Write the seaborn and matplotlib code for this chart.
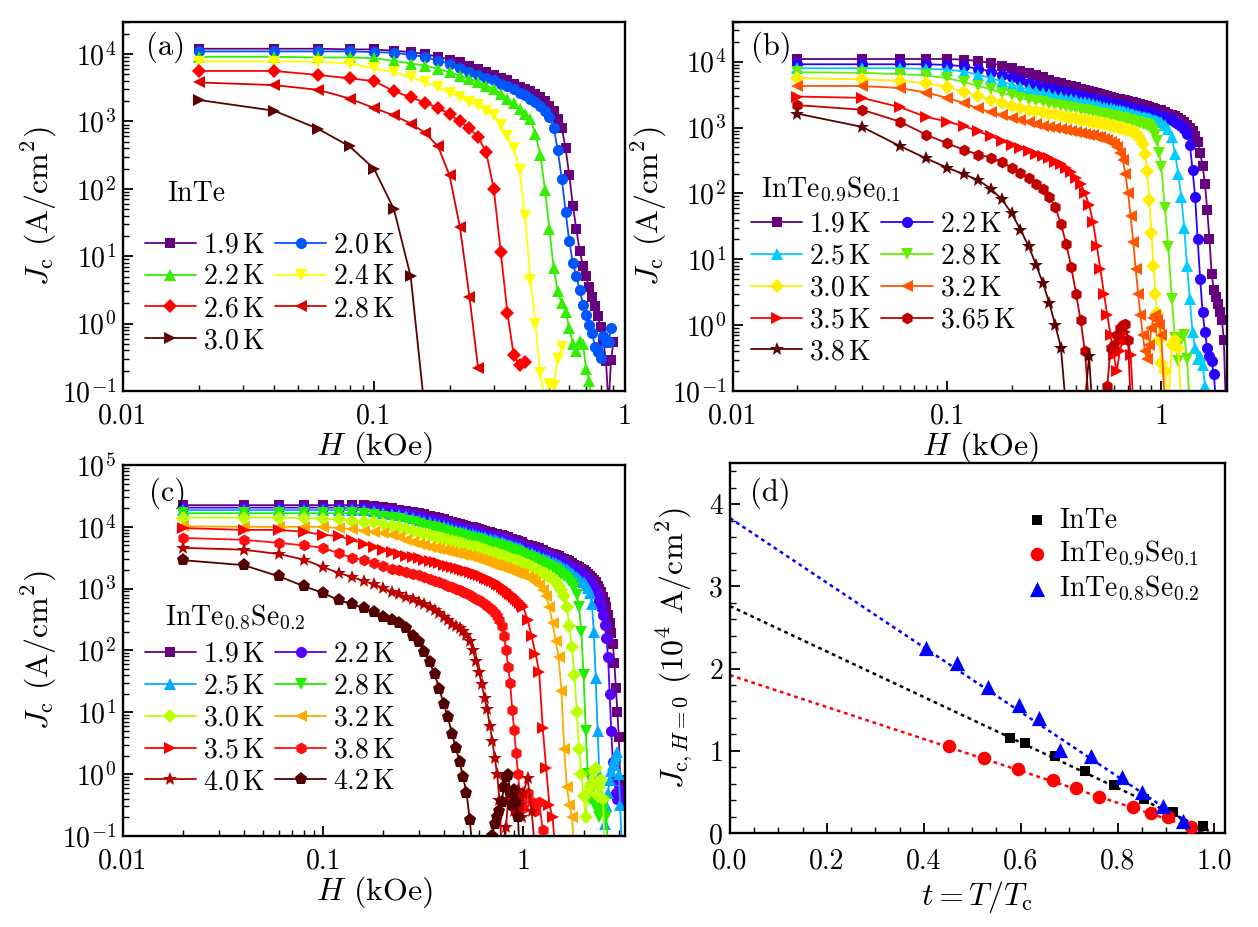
import numpy as np
import matplotlib
matplotlib.use("Agg")
import matplotlib.pyplot as plt
from matplotlib.ticker import LogLocator, NullFormatter, FuncFormatter, MultipleLocator
import seaborn as sns

sns.set_style("ticks", {"axes.edgecolor": "black", "xtick.color": "black",
                        "ytick.color": "black", "text.color": "black",
                        "axes.labelcolor": "black"})
plt.rcParams["font.family"] = "serif"
plt.rcParams["font.serif"] = ["cmr10"]
plt.rcParams["mathtext.fontset"] = "cm"
plt.rcParams["axes.formatter.use_mathtext"] = True
plt.rcParams["axes.unicode_minus"] = False

# ---------------- field grids (kOe) ----------------
H_low = [0.02, 0.04, 0.06, 0.08, 0.10, 0.12, 0.14, 0.16, 0.18, 0.20,
         0.22, 0.24, 0.26, 0.28, 0.30, 0.32, 0.34, 0.36, 0.38, 0.40,
         0.42, 0.44, 0.46, 0.48, 0.50, 0.52, 0.54, 0.56, 0.58, 0.60,
         0.62, 0.64, 0.66, 0.68, 0.70, 0.72, 0.74, 0.76, 0.78, 0.80,
         0.82, 0.84, 0.86, 0.88, 0.90, 0.92, 0.94, 0.96, 0.98, 1.00]
H_b_high = [1.04, 1.08, 1.12, 1.16, 1.20, 1.24, 1.28, 1.32, 1.36, 1.40,
            1.44, 1.48, 1.52, 1.56, 1.60, 1.64, 1.68, 1.72, 1.76, 1.80,
            1.84, 1.88, 1.92, 1.96, 2.00]
H_c_high = [1.05, 1.10, 1.15, 1.20, 1.25, 1.30, 1.35, 1.40, 1.45, 1.50,
            1.55, 1.60, 1.65, 1.70, 1.75, 1.80, 1.85, 1.90, 1.95, 2.00,
            2.05, 2.10, 2.15, 2.20, 2.25, 2.30, 2.35, 2.40, 2.45, 2.50,
            2.55, 2.60, 2.65, 2.70, 2.75, 2.80, 2.85, 2.90, 2.95, 3.00,
            3.05, 3.10, 3.15, 3.20]
H_a = H_low[:45]
H_b = H_low + H_b_high
H_c = H_low + H_c_high

# ---------------- panel (a): InTe, log10(Jc) ----------------
T_a = ["1.9", "2.0", "2.2", "2.4", "2.6", "2.8", "3.0"]
logJ_a = [
    [4.08, 4.08, 4.08, 4.07, 4.07, 4.05, 4.03, 4.00, 3.96, 3.92,
     3.88, 3.83, 3.78, 3.74, 3.69, 3.65, 3.61, 3.56, 3.51, 3.48,
     3.45, 3.41, 3.36, 3.30, 3.23, 3.15, 3.04, 2.90, 2.60, 2.20,
     1.75, 1.40, 1.08, 0.86, 0.70, 0.54, 0.40, 0.26, 0.11, -0.05,
     -0.26, -0.55, -1.22, -0.54, -0.27],
    [4.04, 4.04, 4.04, 4.04, 4.03, 4.02, 3.99, 3.96, 3.90, 3.86,
     3.80, 3.74, 3.69, 3.65, 3.61, 3.56, 3.52, 3.48, 3.43, 3.39,
     3.34, 3.29, 3.23, 3.16, 3.06, 2.91, 2.57, 2.15, 1.66, 1.22,
     0.90, 0.70, 0.50, 0.28, 0.13, -0.02, -0.14, -0.34, -0.42, -0.51,
     -0.19, -0.27, -0.28, -0.07],
    [3.96, 3.96, 3.95, 3.95, 3.94, 3.90, 3.86, 3.83, 3.78, 3.73,
     3.68, 3.63, 3.59, 3.53, 3.48, 3.41, 3.34, 3.27, 3.18, 3.11,
     3.04, 2.81, 2.50, 1.99, 1.40, 0.82, 0.48, 0.30, 0.18, -0.07,
     -0.30, -0.40, -0.26, -0.30, -0.68, -0.85, -1.30],
    [3.89, 3.89, 3.89, 3.86, 3.79, 3.73, 3.66, 3.58, 3.51, 3.43,
     3.36, 3.29, 3.24, 3.16, 3.09, 2.95, 2.78, 2.60, 2.28, 1.59,
     0.65, 0.00, -0.74, -1.15, -0.89, -0.92, -0.52, -0.35],
    [3.75, 3.75, 3.69, 3.64, 3.60, 3.45, 3.36, 3.28, 3.20, 3.11,
     3.00, 2.90, 2.77, 2.54, 2.00, 1.06, 0.16, -0.46, -0.62, -0.57],
    [3.58, 3.54, 3.47, 3.34, 3.20, 3.09, 2.97, 2.83, 2.63, 2.20,
     1.43, 0.40, -0.66],
    [3.32, 3.16, 2.89, 2.63, 2.30, 1.70, 0.70, -1.35],
]
col_a = ["#66007f", "#0055ff", "#33ee00", "#ffff00", "#ff0000", "#dd0000", "#5c0000"]
mk_a = ["s", "o", "^", "v", "D", "<", ">"]
ms_a = [7, 8, 8.5, 8.5, 7, 8.5, 8.5]

# ---------------- panel (b): InTe0.9Se0.1 ----------------
T_b = ["1.9", "2.2", "2.5", "2.8", "3.0", "3.2", "3.5", "3.65", "3.8"]
logJ_b = [
    [4.04, 4.04, 4.04, 4.04, 4.04, 4.03, 4.01, 3.98, 3.94, 3.90,
     3.86, 3.83, 3.79, 3.76, 3.72, 3.69, 3.67, 3.65, 3.63, 3.61,
     3.59, 3.57, 3.56, 3.54, 3.52, 3.51, 3.49, 3.48, 3.47, 3.45,
     3.44, 3.43, 3.42, 3.41, 3.40, 3.39, 3.38, 3.37, 3.36, 3.35,
     3.34, 3.33, 3.32, 3.31, 3.30, 3.29, 3.28, 3.27, 3.26, 3.26,
     3.24, 3.21, 3.19, 3.17, 3.15, 3.11, 3.08, 3.04, 3.00, 2.94,
     2.87, 2.78, 2.62, 2.41, 2.15, 1.75, 1.30, 0.78, 0.54, 0.43,
     0.32, 0.20, 0.08, -0.22, -1.15],
    [3.96, 3.96, 3.96, 3.96, 3.95, 3.93, 3.89, 3.85, 3.80, 3.76,
     3.72, 3.68, 3.65, 3.62, 3.60, 3.58, 3.56, 3.54, 3.52, 3.50,
     3.48, 3.47, 3.45, 3.44, 3.42, 3.41, 3.40, 3.39, 3.37, 3.36,
     3.35, 3.34, 3.33, 3.32, 3.31, 3.30, 3.29, 3.28, 3.27, 3.26,
     3.26, 3.25, 3.24, 3.23, 3.22, 3.21, 3.20, 3.19, 3.18, 3.18,
     3.16, 3.13, 3.11, 3.09, 3.06, 3.02, 2.98, 2.90, 2.74, 2.36,
     1.95, 1.30, 0.70, 0.20, -0.10, -0.35, -0.47, -0.55, -0.74, -1.15],
    [3.90, 3.90, 3.90, 3.89, 3.88, 3.85, 3.80, 3.75, 3.70, 3.65,
     3.61, 3.58, 3.55, 3.53, 3.51, 3.48, 3.46, 3.44, 3.43, 3.41,
     3.39, 3.38, 3.37, 3.35, 3.34, 3.33, 3.31, 3.30, 3.29, 3.28,
     3.27, 3.26, 3.25, 3.24, 3.23, 3.21, 3.20, 3.19, 3.18, 3.18,
     3.16, 3.16, 3.15, 3.14, 3.13, 3.12, 3.11, 3.10, 3.09, 3.08,
     3.04, 2.98, 2.85, 2.60, 2.30, 1.95, 1.48, 0.90, 0.40, -0.10,
     -0.35, -0.52, -0.47, -0.60, -0.92, -1.20],
    [3.84, 3.83, 3.81, 3.79, 3.75, 3.69, 3.63, 3.58, 3.53, 3.49,
     3.45, 3.42, 3.40, 3.38, 3.36, 3.34, 3.32, 3.31, 3.30, 3.28,
     3.27, 3.26, 3.25, 3.23, 3.22, 3.21, 3.20, 3.19, 3.18, 3.17,
     3.16, 3.15, 3.14, 3.13, 3.12, 3.11, 3.10, 3.09, 3.08, 3.07,
     3.06, 3.05, 3.04, 3.02, 3.00, 2.95, 2.89, 2.79, 2.62, 2.40,
     1.78, 1.18, 0.40, -0.20, -0.55, -0.22, -0.15, -0.52, -1.20],
    [3.75, 3.73, 3.71, 3.67, 3.62, 3.54, 3.48, 3.42, 3.37, 3.33,
     3.30, 3.27, 3.25, 3.23, 3.21, 3.20, 3.18, 3.16, 3.15, 3.14,
     3.12, 3.11, 3.10, 3.09, 3.08, 3.07, 3.06, 3.05, 3.03, 3.02,
     3.01, 3.00, 2.99, 2.98, 2.96, 2.95, 2.93, 2.91, 2.88, 2.83,
     2.75, 2.60, 2.34, 1.90, 1.40, 0.90, 0.48, 0.18, -0.22, -0.58,
     -0.70, -1.20, -0.30, -0.22, -0.35, -1.20],
    [3.63, 3.63, 3.60, 3.53, 3.45, 3.37, 3.29, 3.23, 3.19, 3.15,
     3.12, 3.09, 3.06, 3.03, 3.01, 2.99, 2.97, 2.96, 2.94, 2.93,
     2.91, 2.90, 2.89, 2.88, 2.86, 2.85, 2.83, 2.81, 2.78, 2.75,
     2.70, 2.62, 2.51, 2.30, 2.00, 1.65, 1.26, 0.85, 0.48, 0.15,
     -0.15, -0.40, -0.52, -0.30, -0.05, 0.11, 0.15, 0.08, 0.00, -0.15,
     -1.20],
    [3.47, 3.45, 3.31, 3.16, 3.09, 3.02, 2.94, 2.87, 2.80, 2.74,
     2.69, 2.64, 2.60, 2.56, 2.53, 2.48, 2.44, 2.39, 2.32, 2.24,
     2.15, 2.00, 1.83, 1.57, 1.20, 0.85, 0.48, 0.15, -0.15, -0.46,
     -0.70, -0.40, -0.22, -0.10, -0.22, -0.46, -1.20],
    [3.34, 3.27, 3.09, 2.89, 2.76, 2.66, 2.59, 2.54, 2.48, 2.39,
     2.31, 2.24, 2.15, 2.07, 1.95, 1.79, 1.54, 1.23, 0.88, 0.48,
     0.08, -0.40, -1.20, -1.40, -1.40, -1.30, -1.15, -0.92, -0.35, -0.30,
     -0.15, -0.05, 0.00, 0.02, -0.22, -1.20],
    [3.21, 3.01, 2.72, 2.53, 2.39, 2.29, 2.20, 2.07, 1.91, 1.70,
     1.45, 1.20, 0.92, 0.64, 0.34, 0.00, -0.34, -1.30, -1.50, -1.50,
     -1.40, -1.20, -0.47, -1.40],
]
col_b = ["#66007f", "#2a00ff", "#00ccff", "#66ee00", "#ffee00", "#ff5500",
         "#ff0000", "#c00000", "#5c0000"]
mk_b = ["s", "o", "^", "v", "D", "<", ">", "h", "*"]
ms_b = [7, 8, 8.5, 8.5, 7, 8.5, 8.5, 8.5, 10.5]

# ---------------- panel (c): InTe0.8Se0.2 ----------------
T_c = ["1.9", "2.2", "2.5", "2.8", "3.0", "3.2", "3.5", "3.8", "4.0", "4.2"]
logJ_c = [
    [4.35, 4.35, 4.35, 4.35, 4.35, 4.35, 4.35, 4.35, 4.34, 4.32,
     4.30, 4.28, 4.26, 4.24, 4.22, 4.20, 4.18, 4.16, 4.14, 4.12,
     4.10, 4.08, 4.06, 4.05, 4.03, 4.02, 4.00, 3.99, 3.98, 3.96,
     3.95, 3.94, 3.92, 3.91, 3.90, 3.89, 3.88, 3.87, 3.86, 3.85,
     3.84, 3.83, 3.81, 3.80, 3.79, 3.78, 3.77, 3.76, 3.75, 3.73,
     3.71, 3.69, 3.67, 3.65, 3.62, 3.60, 3.58, 3.56, 3.54, 3.52,
     3.50, 3.48, 3.46, 3.44, 3.42, 3.39, 3.37, 3.35, 3.32, 3.30,
     3.27, 3.24, 3.21, 3.18, 3.14, 3.10, 3.05, 3.00, 2.94, 2.87,
     2.79, 2.70, 2.58, 2.45, 2.28, 2.10, 1.80, 1.40, 1.00, 0.60,
     -0.10, -0.35, -0.25, -0.40],
    [4.31, 4.31, 4.31, 4.31, 4.31, 4.31, 4.31, 4.31, 4.30, 4.28,
     4.26, 4.24, 4.22, 4.19, 4.17, 4.15, 4.13, 4.11, 4.09, 4.07,
     4.05, 4.03, 4.01, 4.00, 3.98, 3.97, 3.95, 3.94, 3.93, 3.91,
     3.90, 3.89, 3.87, 3.86, 3.85, 3.84, 3.83, 3.82, 3.81, 3.80,
     3.79, 3.77, 3.76, 3.75, 3.74, 3.73, 3.72, 3.71, 3.69, 3.68,
     3.66, 3.64, 3.62, 3.59, 3.57, 3.55, 3.52, 3.50, 3.48, 3.46,
     3.43, 3.41, 3.38, 3.36, 3.33, 3.31, 3.28, 3.26, 3.24, 3.22,
     3.18, 3.14, 3.10, 3.05, 3.00, 2.94, 2.88, 2.80, 2.70, 2.58,
     2.42, 2.20, 1.90, 1.30, 0.70, 0.20, -0.10, -0.30, -0.40, -0.25,
     -0.40, -0.30, -0.45, -0.35],
    [4.27, 4.27, 4.27, 4.27, 4.27, 4.27, 4.27, 4.27, 4.26, 4.23,
     4.21, 4.19, 4.17, 4.14, 4.11, 4.09, 4.07, 4.05, 4.03, 4.01,
     3.99, 3.97, 3.95, 3.94, 3.92, 3.91, 3.89, 3.88, 3.87, 3.85,
     3.84, 3.83, 3.81, 3.80, 3.79, 3.78, 3.77, 3.76, 3.75, 3.74,
     3.72, 3.71, 3.70, 3.69, 3.68, 3.67, 3.66, 3.65, 3.63, 3.62,
     3.60, 3.57, 3.55, 3.53, 3.50, 3.48, 3.46, 3.43, 3.41, 3.39,
     3.36, 3.33, 3.31, 3.28, 3.25, 3.22, 3.19, 3.16, 3.13, 3.10,
     3.06, 3.01, 2.93, 2.75, 2.30, 1.55, 0.70, 0.00, -0.30, -0.50,
     -0.80, -0.50, -0.30, -0.10, 0.05, 0.15, 0.25, 0.30, 0.35, 0.00,
     -0.50, -1.20],
    [4.22, 4.22, 4.22, 4.22, 4.22, 4.22, 4.22, 4.21, 4.19, 4.16,
     4.14, 4.12, 4.09, 4.07, 4.04, 4.02, 4.00, 3.98, 3.96, 3.94,
     3.92, 3.90, 3.88, 3.87, 3.85, 3.84, 3.82, 3.81, 3.80, 3.78,
     3.77, 3.76, 3.74, 3.73, 3.72, 3.71, 3.70, 3.69, 3.68, 3.67,
     3.65, 3.64, 3.63, 3.62, 3.61, 3.60, 3.59, 3.58, 3.56, 3.55,
     3.52, 3.50, 3.47, 3.44, 3.41, 3.38, 3.36, 3.33, 3.30, 3.27,
     3.24, 3.21, 3.17, 3.13, 3.08, 3.01, 2.90, 2.70, 2.30, 1.60,
     0.70, 0.00, -0.40, -0.25, -0.45, -0.55, -0.50, -0.70, -0.55, -0.60,
     -0.45, -0.70, -1.20],
    [4.15, 4.15, 4.15, 4.14, 4.13, 4.12, 4.10, 4.08, 4.07, 4.05,
     4.02, 3.99, 3.96, 3.93, 3.90, 3.88, 3.86, 3.84, 3.82, 3.80,
     3.78, 3.77, 3.75, 3.74, 3.72, 3.71, 3.69, 3.68, 3.67, 3.65,
     3.64, 3.62, 3.61, 3.59, 3.58, 3.57, 3.56, 3.55, 3.53, 3.52,
     3.51, 3.50, 3.48, 3.47, 3.46, 3.45, 3.44, 3.43, 3.42, 3.41,
     3.38, 3.35, 3.32, 3.29, 3.26, 3.23, 3.19, 3.15, 3.10, 3.05,
     2.98, 2.88, 2.70, 2.40, 2.05, 1.60, 1.00, 0.40, 0.00, -0.36,
     -0.70, -0.30, -0.20, -0.15, 0.05, 0.10, -0.35, -0.20, -0.10, -0.40,
     -1.20],
    [4.01, 4.00, 4.00, 4.00, 4.00, 3.98, 3.96, 3.94, 3.92, 3.90,
     3.86, 3.83, 3.79, 3.75, 3.72, 3.70, 3.68, 3.66, 3.64, 3.63,
     3.61, 3.60, 3.58, 3.57, 3.55, 3.54, 3.52, 3.51, 3.50, 3.48,
     3.47, 3.45, 3.43, 3.42, 3.40, 3.39, 3.38, 3.37, 3.35, 3.34,
     3.33, 3.31, 3.30, 3.29, 3.28, 3.26, 3.25, 3.24, 3.23, 3.22,
     3.19, 3.15, 3.11, 3.06, 2.98, 2.88, 2.70, 2.44, 2.15, 1.90,
     1.35, 0.40, -0.20, -0.50, -0.70, -1.30],
    [3.98, 3.95, 3.95, 3.92, 3.87, 3.85, 3.78, 3.73, 3.67, 3.62,
     3.59, 3.56, 3.53, 3.51, 3.49, 3.47, 3.45, 3.43, 3.41, 3.39,
     3.37, 3.35, 3.34, 3.32, 3.30, 3.29, 3.27, 3.25, 3.24, 3.22,
     3.20, 3.18, 3.16, 3.14, 3.12, 3.10, 3.08, 3.06, 3.03, 3.00,
     2.98, 2.95, 2.92, 2.89, 2.86, 2.83, 2.80, 2.77, 2.74, 2.70,
     2.50, 2.23, 1.95, 1.65, 0.75, 0.10, -0.50, -0.70, -1.30],
    [3.82, 3.79, 3.74, 3.70, 3.66, 3.57, 3.50, 3.46, 3.41, 3.36,
     3.32, 3.30, 3.27, 3.24, 3.22, 3.19, 3.16, 3.13, 3.10, 3.08,
     3.05, 3.03, 3.00, 2.98, 2.95, 2.93, 2.90, 2.87, 2.84, 2.81,
     2.78, 2.75, 2.72, 2.69, 2.65, 2.61, 2.56, 2.50, 2.40, 2.23,
     2.00, 1.74, 1.47, 1.04, 0.71, 0.34, 0.00, -0.30, -0.42, -0.55,
     -0.30, -0.45, -0.60, -0.45, -0.90, -1.30],
    [3.66, 3.63, 3.56, 3.47, 3.35, 3.25, 3.19, 3.12, 3.07, 3.01,
     2.95, 2.91, 2.87, 2.83, 2.79, 2.75, 2.70, 2.65, 2.60, 2.54,
     2.49, 2.43, 2.40, 2.37, 2.32, 2.25, 2.15, 2.00, 1.83, 1.65,
     1.45, 1.23, 1.05, 0.78, 0.54, 0.26, 0.00, -0.42, -1.30, -1.30,
     -0.85, -0.40, -0.30, -0.45, -0.60, -0.40, -0.25, -0.50, -0.70, -0.30,
     -0.07, -0.60, -1.30],
    [3.46, 3.38, 3.20, 3.04, 2.93, 2.81, 2.75, 2.68, 2.62, 2.54,
     2.49, 2.44, 2.36, 2.24, 2.13, 1.97, 1.81, 1.62, 1.38, 1.14,
     0.92, 0.65, 0.43, 0.20, -0.05, -0.30, -0.74, -1.30, -1.40, -1.40,
     -1.40, -1.40, -1.40, -1.30, -1.00, -0.80, -0.70, -0.60, -0.45, -0.20,
     -0.05, -0.02, -0.30, -0.50, -0.25, -0.45, -0.70, -1.30],
]
col_c = ["#66007f", "#5500ff", "#00aaff", "#22ee00", "#bbff00", "#ffaa00",
         "#ff0000", "#ff1010", "#b80000", "#550000"]
mk_c = ["s", "o", "^", "v", "D", "<", ">", "h", "*", "p"]
ms_c = [7, 8, 8.5, 8.5, 7, 8.5, 8.5, 8.5, 10.5, 9.5]

# ---------------- panel (d): Jc(H=0) vs t ----------------
t_InTe = [0.579, 0.610, 0.671, 0.732, 0.793, 0.854, 0.915, 0.976]
J_InTe = [1.16, 1.10, 0.94, 0.76, 0.58, 0.41, 0.25, 0.08]
t_Se01 = [0.452, 0.524, 0.595, 0.667, 0.714, 0.762, 0.833, 0.869, 0.905, 0.952]
J_Se01 = [1.06, 0.91, 0.78, 0.65, 0.55, 0.44, 0.32, 0.24, 0.19, 0.07]
t_Se02 = [0.404, 0.468, 0.532, 0.596, 0.638, 0.681, 0.745, 0.809, 0.851, 0.894, 0.936]
J_Se02 = [2.25, 2.07, 1.77, 1.56, 1.40, 1.01, 0.94, 0.68, 0.50, 0.33, 0.14]
fit_t_InTe = [0.0, 1.02]
fit_J_InTe = [2.76, -0.06]
fit_t_Se01 = [0.0, 1.01]
fit_J_Se01 = [1.92, -0.04]
fit_t_Se02 = [0.0, 0.975]
fit_J_Se02 = [3.83, 0.0]

FS_TICK = 20
FS_LAB = 23
FS_TXT = 20
FS_LEG = 20
FS_LET = 22

fig = plt.figure(figsize=(12.58, 9.27), dpi=100)
ax_a = fig.add_axes([0.0978, 0.5782, 0.3990, 0.3981])
ax_b = fig.add_axes([0.5827, 0.5782, 0.3927, 0.3981])
ax_c = fig.add_axes([0.0978, 0.0982, 0.3990, 0.4002])
ax_d = fig.add_axes([0.5803, 0.1014, 0.3935, 0.3991])


def style_axes(ax):
    for s in ax.spines.values():
        s.set_linewidth(1.7)
        s.set_color("black")
    ax.tick_params(which="both", direction="in", top=False, right=False,
                   labelsize=FS_TICK)
    ax.tick_params(axis="x", which="both", pad=9)
    ax.tick_params(axis="y", which="both", pad=5)
    ax.tick_params(which="major", length=7, width=1.3)
    ax.tick_params(which="minor", length=4, width=1.0)


def log_panel(ax, H, curves, temps, colors, markers, sizes, xmax, ymax,
              letter, label, label_xy, leg_xy, letter_xy):
    handles = []
    for lg, c, m, s in zip(curves, colors, markers, sizes):
        x = np.array(H[:len(lg)])
        y = 10.0 ** np.array(lg)
        sns.lineplot(x=x, y=y, ax=ax, color=c, marker=m, markersize=s,
                     markeredgewidth=0, linewidth=1.3, estimator=None,
                     errorbar=None, sort=False)
        handles.append(ax.lines[-1])
    ax.set_xscale("log")
    ax.set_yscale("log")
    ax.set_xlim(0.01, xmax)
    ax.set_ylim(0.1, ymax)
    ax.set_xticks([0.01, 0.1, 1])
    ax.set_xticklabels(["0.01", "0.1", "1"])
    ax.xaxis.set_minor_locator(LogLocator(base=10, subs=np.arange(2, 10), numticks=50))
    ax.xaxis.set_minor_formatter(NullFormatter())
    ax.yaxis.set_major_locator(LogLocator(base=10, numticks=20))
    ax.yaxis.set_major_formatter(FuncFormatter(lambda v, p: r"$10^{%d}$" % int(round(np.log10(v)))))
    ax.yaxis.set_minor_locator(LogLocator(base=10, subs=np.arange(2, 10), numticks=50))
    ax.yaxis.set_minor_formatter(NullFormatter())
    style_axes(ax)
    ax.set_xlabel(r"$H$ (kOe)", fontsize=FS_LAB, labelpad=0)
    ax.set_ylabel(r"$J_{\mathrm{c}}$ (A/cm$^2$)", fontsize=FS_LAB, labelpad=2)
    n = len(handles)
    order = list(range(0, n, 2)) + list(range(1, n, 2))
    labels = [r"$%s\,\mathrm{K}$" % t for t in temps]
    ax.legend([handles[i] for i in order], [labels[i] for i in order],
              ncol=2, loc="lower left", bbox_to_anchor=leg_xy, frameon=False,
              fontsize=FS_LEG, handlelength=1.85, handletextpad=0.25,
              columnspacing=0.36, labelspacing=0.2, borderpad=0, borderaxespad=0)
    ax.text(letter_xy[0], letter_xy[1], letter, transform=ax.transAxes,
            ha="left", va="top", fontsize=FS_LET)
    ax.text(label_xy[0], label_xy[1], label, transform=ax.transAxes,
            ha="left", va="center", fontsize=FS_TXT)


log_panel(ax_a, H_a, logJ_a, T_a, col_a, mk_a, ms_a, 1.0, 3e4,
          "(a)", "InTe", (0.088, 0.534), (0.043, 0.10), (0.045, 0.975))
log_panel(ax_b, H_b, logJ_b, T_b, col_b, mk_b, ms_b, 2.03, 4e4,
          "(b)", r"InTe$_{0.9}$Se$_{0.1}$", (0.057, 0.545), (0.036, 0.07), (0.036, 0.975))
log_panel(ax_c, H_c, logJ_c, T_c, col_c, mk_c, ms_c, 3.22, 1e5,
          "(c)", r"InTe$_{0.8}$Se$_{0.2}$", (0.084, 0.59), (0.043, 0.11), (0.051, 0.965))

# ---- panel (d)
ax = ax_d
sns.lineplot(x=fit_t_InTe, y=fit_J_InTe, ax=ax, color="black", linestyle=(0, (1.5, 1.5)),
             linewidth=1.8, estimator=None, errorbar=None, sort=False)
sns.lineplot(x=fit_t_Se01, y=fit_J_Se01, ax=ax, color="#ff0000", linestyle=(0, (1.5, 1.5)),
             linewidth=1.8, estimator=None, errorbar=None, sort=False)
sns.lineplot(x=fit_t_Se02, y=fit_J_Se02, ax=ax, color="#0000ff", linestyle=(0, (1.5, 1.5)),
             linewidth=1.8, estimator=None, errorbar=None, sort=False)
hd = []
sns.scatterplot(x=t_InTe, y=J_InTe, ax=ax, color="black", marker="s", s=60,
                linewidth=0, zorder=3)
hd.append(ax.collections[-1])
sns.scatterplot(x=t_Se01, y=J_Se01, ax=ax, color="#ff0000", marker="o", s=95,
                linewidth=0, zorder=3)
hd.append(ax.collections[-1])
sns.scatterplot(x=t_Se02, y=J_Se02, ax=ax, color="#0000ff", marker="^", s=120,
                linewidth=0, zorder=3)
hd.append(ax.collections[-1])
ax.set_xlim(0.0, 1.022)
ax.set_ylim(0.0, 4.5)
ax.set_xticks([0.0, 0.2, 0.4, 0.6, 0.8, 1.0])
ax.set_xticklabels(["0.0", "0.2", "0.4", "0.6", "0.8", "1.0"])
ax.set_yticks([0, 1, 2, 3, 4])
ax.set_yticklabels(["0", "1", "2", "3", "4"])
ax.xaxis.set_minor_locator(MultipleLocator(0.05))
ax.yaxis.set_minor_locator(MultipleLocator(0.2))
style_axes(ax)
ax.tick_params(axis="x", which="both", pad=11)
ax.set_xlabel(r"$t = T/T_{\mathrm{c}}$", fontsize=FS_LAB, labelpad=3)
ax.set_ylabel(r"$J_{\mathrm{c},H=0}$ (10$^4$ A/cm$^2$)", fontsize=FS_LAB, labelpad=10)
ax.legend(hd, ["InTe", r"InTe$_{0.9}$Se$_{0.1}$", r"InTe$_{0.8}$Se$_{0.2}$"],
          loc="upper left", bbox_to_anchor=(0.598, 0.88), frameon=False,
          fontsize=FS_LEG, handlelength=0.8, handletextpad=0.4,
          labelspacing=0.2, borderpad=0, borderaxespad=0)
ax.text(0.04, 0.96, "(d)", transform=ax.transAxes, ha="left", va="top",
        fontsize=FS_LET)

fig.savefig("out.png", dpi=100)
